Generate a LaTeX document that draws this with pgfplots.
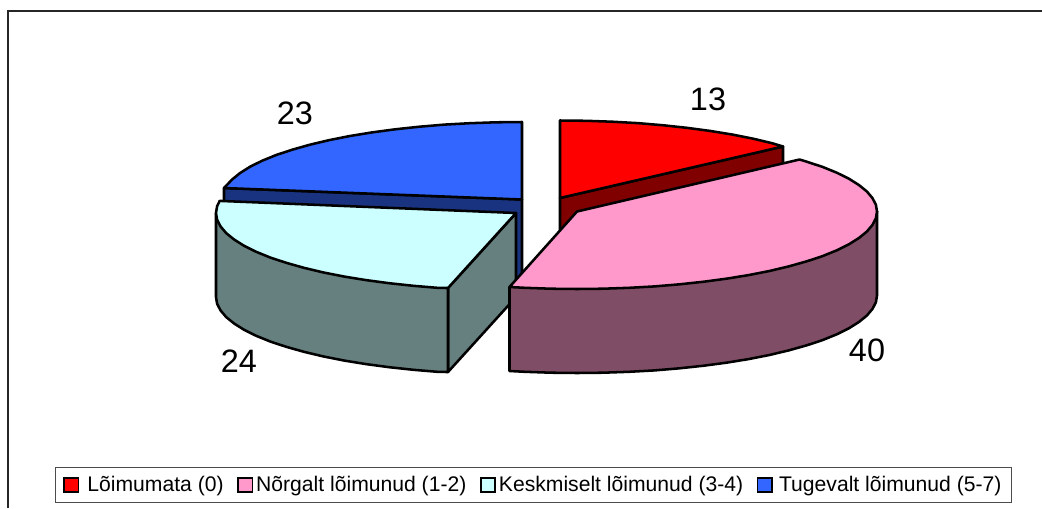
\documentclass[border=0pt]{standalone}
\usepackage{pgfplots}
\pgfplotsset{compat=1.18}
\usepackage{fontspec}
\setmainfont{Liberation Sans}
\definecolor{cred}{HTML}{FF0000}\definecolor{sred}{HTML}{800000}
\definecolor{cpink}{HTML}{FF99CC}\definecolor{spink}{HTML}{804D66}
\definecolor{ccyan}{HTML}{CCFFFF}\definecolor{scyan}{HTML}{668080}
\definecolor{cblue}{HTML}{3366FF}\definecolor{sblue}{HTML}{1A3380}
\begin{document}
\begin{tikzpicture}
\begin{axis}[
  anchor=south west, at={(0,0)},
  scale only axis, width=781.5pt, height=381pt,
  xmin=0, xmax=1042, ymin=0, ymax=508, y dir=reverse,
  axis lines=none, clip=true,
  legend columns=4,
  legend cell align=left,
  legend image code/.code={\draw[#1] (-1.5pt,-5.2pt) rectangle (9.5pt,5.2pt);},
  legend style={at={(axis cs:533.5,485)}, anchor=center, font=\fontsize{15.85}{18}\selectfont,
    draw=black!70, line width=0.9pt, inner xsep=5.5pt, inner ysep=4.5pt,
    /tikz/every even column/.style={column sep=8pt},
    /tikz/every odd column/.style={column sep=0pt}},
  shp/.style={draw=black, line width=1.9pt, line join=round, mark=none, forget plot},
]
% frame
\addplot[draw=black!85, line width=1.1pt, mark=none, forget plot] coordinates {(8,508) (8,11) (1042,11)};
% blue
\addplot[shp, fill=sblue] coordinates {(522,199.5) (224,188) (224,272) (522,283.5)} --cycle;
\addplot[shp, fill=cblue] coordinates {(522,199.5) (224,188) (232.2,179.4) (240.1,173) (250.1,166.7) (262.2,160.7) (276.2,155) (292.2,149.7) (309.9,144.7) (329.2,140.1) (349.9,136) (372,132.4) (395.2,129.3) (419.4,126.7) (444.4,124.6) (469.9,123.2) (495.8,122.3) (522,122)} --cycle;
% red
\addplot[shp, fill=sred] coordinates {(560,198) (783,146.5) (783,230.5) (560,282)} --cycle;
\addplot[shp, fill=cred] coordinates {(560,198) (560,120.5) (586.2,120.8) (612.1,121.7) (637.6,123.1) (662.6,125.2) (686.8,127.8) (710,130.9) (732.1,134.5) (752.8,138.6) (772.1,143.2) (783,146.5)} --cycle;
% cyan
\addplot[shp, fill=scyan] coordinates {(516,213) (448,288) (448,372) (516,297)} --cycle;
\addplot[shp, fill=scyan] coordinates {(448,288) (448,372) (438.4,371.9) (413.4,369.8) (389.2,367.2) (366,364.1) (343.9,360.5) (323.2,356.4) (303.9,351.8) (286.2,346.8) (270.2,341.5) (256.2,335.8) (244.1,329.8) (234.1,323.5) (226.2,317.1) (220.6,310.5) (217.1,303.8) (216,297) (216,213)} --cycle;
\addplot[shp, fill=ccyan] coordinates {(516,213) (448,288) (438.4,287.9) (413.4,285.8) (389.2,283.2) (366,280.1) (343.9,276.5) (323.2,272.4) (303.9,267.8) (286.2,262.8) (270.2,257.5) (256.2,251.8) (244.1,245.8) (234.1,239.5) (226.2,233.1) (220.6,226.5) (217.1,219.8) (216,213) (217.1,206.2) (219.7,200.9)} --cycle;
% pink
\addplot[shp, fill=spink] coordinates {(877,211.5) (877,295.5) (875.9,302.3) (872.4,309) (866.8,315.6) (858.9,322) (848.9,328.3) (836.8,334.3) (822.8,340) (806.8,345.3) (789.1,350.3) (769.8,354.9) (749.1,359) (727,362.6) (703.8,365.7) (679.6,368.3) (654.6,370.4) (629.1,371.8) (603.2,372.7) (577,373) (550.8,372.7) (524.9,371.8) (509.5,371) (509.5,287)} --cycle;
\addplot[shp, fill=cpink] coordinates {(577,211.5) (799.6,159.5) (806.8,161.7) (822.8,167) (836.8,172.7) (848.9,178.7) (858.9,185) (866.8,191.4) (872.4,198) (875.9,204.7) (877,211.5) (875.9,218.3) (872.4,225) (866.8,231.6) (858.9,238) (848.9,244.3) (836.8,250.3) (822.8,256) (806.8,261.3) (789.1,266.3) (769.8,270.9) (749.1,275) (727,278.6) (703.8,281.7) (679.6,284.3) (654.6,286.4) (629.1,287.8) (603.2,288.7) (577,289) (550.8,288.7) (524.9,287.8) (509.5,287)} --cycle;
% legend
\addlegendimage{draw=black, line width=1.4pt, fill=cred}
\addlegendentry{\hspace*{4pt}Lõimumata (0)}
\addlegendimage{draw=black, line width=1.4pt, fill=cpink}
\addlegendentry{Nõrgalt lõimunud (1-2)}
\addlegendimage{draw=black, line width=1.4pt, fill=ccyan}
\addlegendentry{Keskmiselt lõimunud (3-4)}
\addlegendimage{draw=black, line width=1.4pt, fill=cblue}
\addlegendentry{\hspace*{2.5pt}Tugevalt lõimunud (5-7)}
% labels
\node[font=\fontsize{24.3}{28}\selectfont] at (axis cs:708,99) {13};
\node[font=\fontsize{24.3}{28}\selectfont] at (axis cs:295,113) {23};
\node[font=\fontsize{24.3}{28}\selectfont] at (axis cs:239,361) {24};
\node[font=\fontsize{24.3}{28}\selectfont] at (axis cs:867,350) {40};
\end{axis}
\pgfresetboundingbox
\path[use as bounding box] (0,0) rectangle (781.5pt,381pt);
\end{tikzpicture}
\end{document}
